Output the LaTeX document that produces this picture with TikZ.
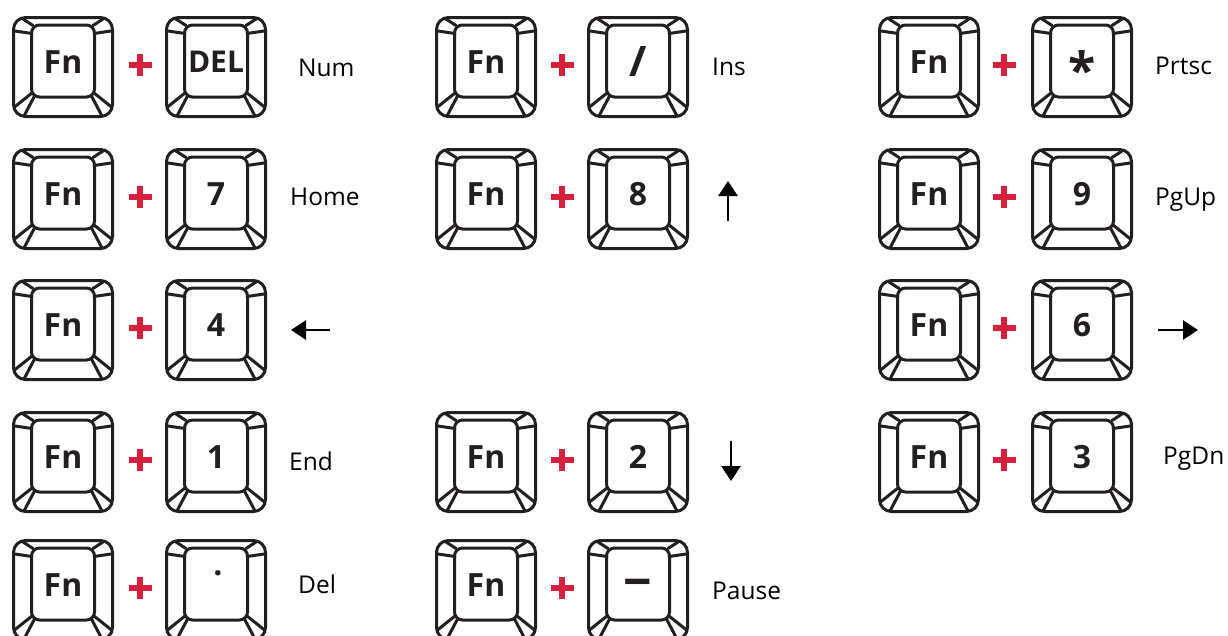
\documentclass[tikz,border=0pt]{standalone}
\usepackage{fontspec}
\setmainfont{Open Sans}
\usetikzlibrary{arrows.meta}
\definecolor{keyink}{RGB}{35,31,32}
\definecolor{plusred}{RGB}{214,32,62}
\tikzset{
 keyline/.style={draw=keyink, line width=3pt, line join=round, line cap=round},
 keytext/.style={font=\fontsize{32}{36}\selectfont\bfseries, text=keyink, inner sep=0pt},
 desc/.style={font=\fontsize{24.5}{28}\selectfont, text=black, anchor=base west, inner sep=0pt},
 plussign/.style={draw=plusred, line width=6.5pt},
 dirarrow/.style={draw=black, line width=2.8pt, -{Triangle[length=15pt,width=19pt]}},
}
% \keycap[node options]{name}{left x}{top y}{text}
\newcommand\keycap[5][]{%
 \begin{scope}[shift={(#3,#4)}]
  \draw[keyline, rounded corners=12pt] (1.5,1.5) rectangle (100.5,100.5);
  \draw[keyline, rounded corners=8pt] (19.5,9) rectangle (82.5,81);
  \draw[keyline] (3,15) -- (20,17.5) (11,3) -- (21,9.5)
                 (99,15) -- (82,17.5) (91,3) -- (81,9.5)
                 (20,77) -- (2.5,91) (22,81) -- (12,100)
                 (82,77) -- (99.5,91) (80,81) -- (90,100);
  \node[keytext,#1] (#2) at (51,46) {#5};
 \end{scope}}
% \plusmark{name}{center x}{center y}
\newcommand\plusmark[3]{%
 \coordinate (#1) at (#2,#3);
 \draw[plussign] ([xshift=-11.5pt]#1) -- ([xshift=11.5pt]#1)
                 ([yshift=-11pt]#1) -- ([yshift=11pt]#1);}
\begin{document}
\begin{tikzpicture}[x=1pt,y=-1pt]
\useasboundingbox (0,0) rectangle (1228,635);
% ---------- row 1 ----------
\keycap{fnA1}{12}{16}{Fn}
\plusmark{pA1}{140}{65}
\keycap[font=\fontsize{30}{34}\selectfont\bfseries]{kA1}{165}{16}{DEL}
\node[desc] (lA1) at (298,76) {Num};
\keycap{fnB1}{435}{16}{Fn}
\plusmark{pB1}{562}{65}
\keycap[font=\fontsize{42}{46}\selectfont\bfseries]{kB1}{587}{16}{/}
\node[desc] (lB1) at (712,75) {Ins};
\keycap{fnC1}{878}{16}{Fn}
\plusmark{pC1}{1004}{65}
\keycap[font=\fontsize{50}{54}\selectfont\bfseries, anchor=base, yshift=-26pt]{kC1}{1031}{16}{*}
\node[desc] (lC1) at (1155,74) {Prtsc};
% ---------- row 2 ----------
\keycap{fnA2}{12}{148}{Fn}
\plusmark{pA2}{140}{197}
\keycap{kA2}{165}{148}{7}
\node[desc] (lA2) at (290,205) {Home};
\keycap{fnB2}{435}{148}{Fn}
\plusmark{pB2}{562}{197}
\keycap{kB2}{587}{148}{8}
\coordinate (ua1) at (728,221);
\coordinate (ua2) at (728,181);
\draw[dirarrow] (ua1) -- (ua2);
\keycap{fnC2}{878}{148}{Fn}
\plusmark{pC2}{1004}{197}
\keycap{kC2}{1031}{148}{9}
\node[desc] (lC2) at (1155,205) {PgUp};
% ---------- row 3 ----------
\keycap{fnA3}{12}{279}{Fn}
\plusmark{pA3}{140}{328}
\keycap{kA3}{165}{279}{4}
\coordinate (la1) at (330,330);
\coordinate (la2) at (291,330);
\draw[dirarrow] (la1) -- (la2);
\keycap{fnC3}{878}{279}{Fn}
\plusmark{pC3}{1004}{328}
\keycap{kC3}{1031}{279}{6}
\coordinate (ra1) at (1158,330);
\coordinate (ra2) at (1198,330);
\draw[dirarrow] (ra1) -- (ra2);
% ---------- row 4 ----------
\keycap{fnA4}{12}{411}{Fn}
\plusmark{pA4}{140}{460}
\keycap{kA4}{165}{411}{1}
\node[desc] (lA4) at (289,470) {End};
\keycap{fnB4}{435}{411}{Fn}
\plusmark{pB4}{562}{460}
\keycap{kB4}{587}{411}{2}
\coordinate (da1) at (731,441);
\coordinate (da2) at (731,481);
\draw[dirarrow] (da1) -- (da2);
\keycap{fnC4}{878}{411}{Fn}
\plusmark{pC4}{1004}{460}
\keycap{kC4}{1031}{411}{3}
\node[desc] (lC4) at (1163,464) {PgDn};
% ---------- row 5 ----------
\keycap{fnA5}{12}{539}{Fn}
\plusmark{pA5}{140}{588}
\keycap[xshift=2pt, yshift=12pt]{kA5}{165}{539}{.}
\node[desc] (lA5) at (298,593) {Del};
\keycap{fnB5}{435}{539}{Fn}
\plusmark{pB5}{562}{588}
\keycap[font=\fontsize{50}{54}\selectfont\bfseries, anchor=base, yshift=-14pt]{kB5}{587}{539}{−}
\node[desc] (lB5) at (712,599) {Pause};
\end{tikzpicture}
\end{document}
